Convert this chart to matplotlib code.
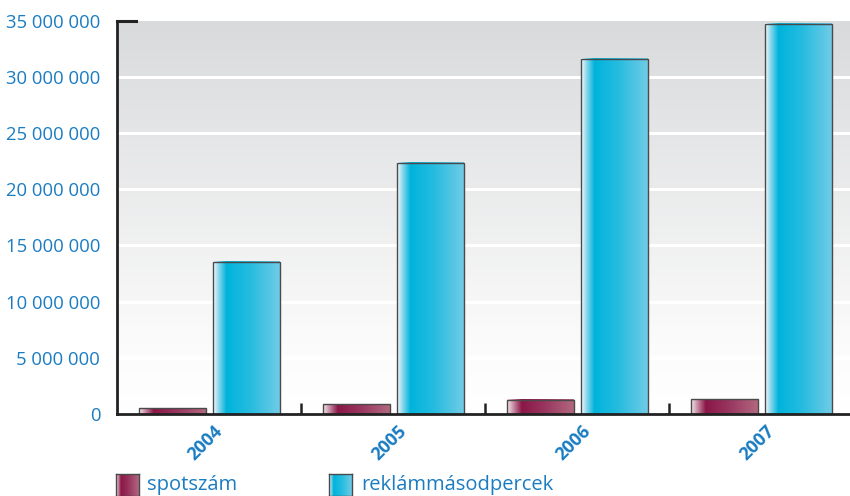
import numpy as np
import matplotlib
matplotlib.use("Agg")
import matplotlib.pyplot as plt
from matplotlib.colors import LinearSegmentedColormap
import matplotlib.transforms as mtransforms

years = ["2004", "2005", "2006", "2007"]
spotszam = [520000, 860000, 1250000, 1330000]
reklam_mp = [13520000, 22330000, 31580000, 34700000]
yticks = [0, 5000000, 10000000, 15000000, 20000000, 25000000, 30000000, 35000000]
ytick_labels = ["0", "5 000 000", "10 000 000", "15 000 000", "20 000 000",
                "25 000 000", "30 000 000", "35 000 000"]
series_names = ["spotszám", "reklámmásodpercek"]

plt.rcParams['font.family'] = ['Open Sans', 'DejaVu Sans']
BLUE = '#1a7cc1'

cmap_spot = LinearSegmentedColormap.from_list(
    "spot", [(0, '#f4eaee'), (0.06, '#d9aebf'), (0.22, '#8a1747'), (0.55, '#98345e'), (1, '#b2687f')])
cmap_cyan = LinearSegmentedColormap.from_list(
    "cyan", [(0, '#ffffff'), (0.06, '#a8e0f0'), (0.2, '#00b3db'), (0.55, '#25bce0'), (1, '#70cbe6')])

fig = plt.figure(figsize=(8.5, 4.96), dpi=100)
ax = fig.add_axes([117/850, 1-414/496, 1-117/850, (414-20.5)/496])

xmax = (850-117)/184
ax.set_xlim(0, xmax)
ax.set_ylim(0, 35000000)

# background gradient
bg = np.linspace(0, 1, 256).reshape(-1, 1)
bg_cmap = LinearSegmentedColormap.from_list("bg", [(0, '#ffffff'), (0.15, '#fcfcfc'), (1, '#d9dadc')])
ax.imshow(bg, extent=[0, xmax, 0, 35000000], aspect='auto', origin='lower',
          cmap=bg_cmap, zorder=0)

for yv in yticks[1:-1]:
    ax.axhline(yv, color='white', lw=2.2, zorder=1)

grad = np.linspace(0, 1, 256).reshape(1, -1)
w = 0.364
off1 = 0.12
off2 = off1 + w + 0.038
for i in range(len(years)):
    for off, val, cm in ((off1, spotszam[i], cmap_spot), (off2, reklam_mp[i], cmap_cyan)):
        x0 = i + off
        ax.imshow(grad, extent=[x0, x0 + w, 0, val], aspect='auto', cmap=cm, zorder=2)
        ax.bar(x0, val, width=w, align='edge', facecolor='none',
               edgecolor='#4a4a4a', lw=1.0, zorder=3)

ax.set_xlim(0, xmax)
ax.set_ylim(0, 35000000)

for s in ['top', 'right']:
    ax.spines[s].set_visible(False)
for s in ['left', 'bottom']:
    ax.spines[s].set_color('#222222')
    ax.spines[s].set_linewidth(2)
    ax.spines[s].set_zorder(5)

ax.set_yticks(yticks)
ax.set_yticklabels(ytick_labels)
ax.tick_params(axis='y', length=0, pad=12, labelsize=13.3, labelcolor=BLUE)

# group separators as ticks
ax.set_xticks([1, 2, 3])
ax.set_xticklabels([])
ax.tick_params(axis='x', direction='in', length=8, width=1.8, color='#222222')

# top-left marker tick at 35M
ax.axhline(35000000, xmin=0, xmax=19/733, color='#222222', lw=2.2, zorder=6, clip_on=False)

trans = mtransforms.blended_transform_factory(ax.transData, ax.transAxes)
for i, yr in enumerate(years):
    t = mtransforms.offset_copy(trans, fig=fig, x=-4, y=-29, units='dots')
    ax.text(i + 0.5, 0, yr, transform=t, rotation=45, ha='center', va='center',
            rotation_mode='anchor', color=BLUE, fontsize=13, fontweight='bold')

# legend
def legend_patch(x0, cm, label, tx):
    lax = fig.add_axes([x0/850, 0, 23/850, (496-474)/496])
    lax.imshow(grad, extent=[0, 1, 0, 1], aspect='auto', cmap=cm)
    lax.set_xticks([]); lax.set_yticks([])
    for s in lax.spines.values():
        s.set_color('#4a4a4a'); s.set_linewidth(1.0)
    fig.text(tx/850, 1-490/496, label, color=BLUE, fontsize=14.5, ha='left', va='baseline')

legend_patch(116, cmap_spot, series_names[0], 147)
legend_patch(329, cmap_cyan, series_names[1], 361)

fig.savefig("out.png", dpi=100)
